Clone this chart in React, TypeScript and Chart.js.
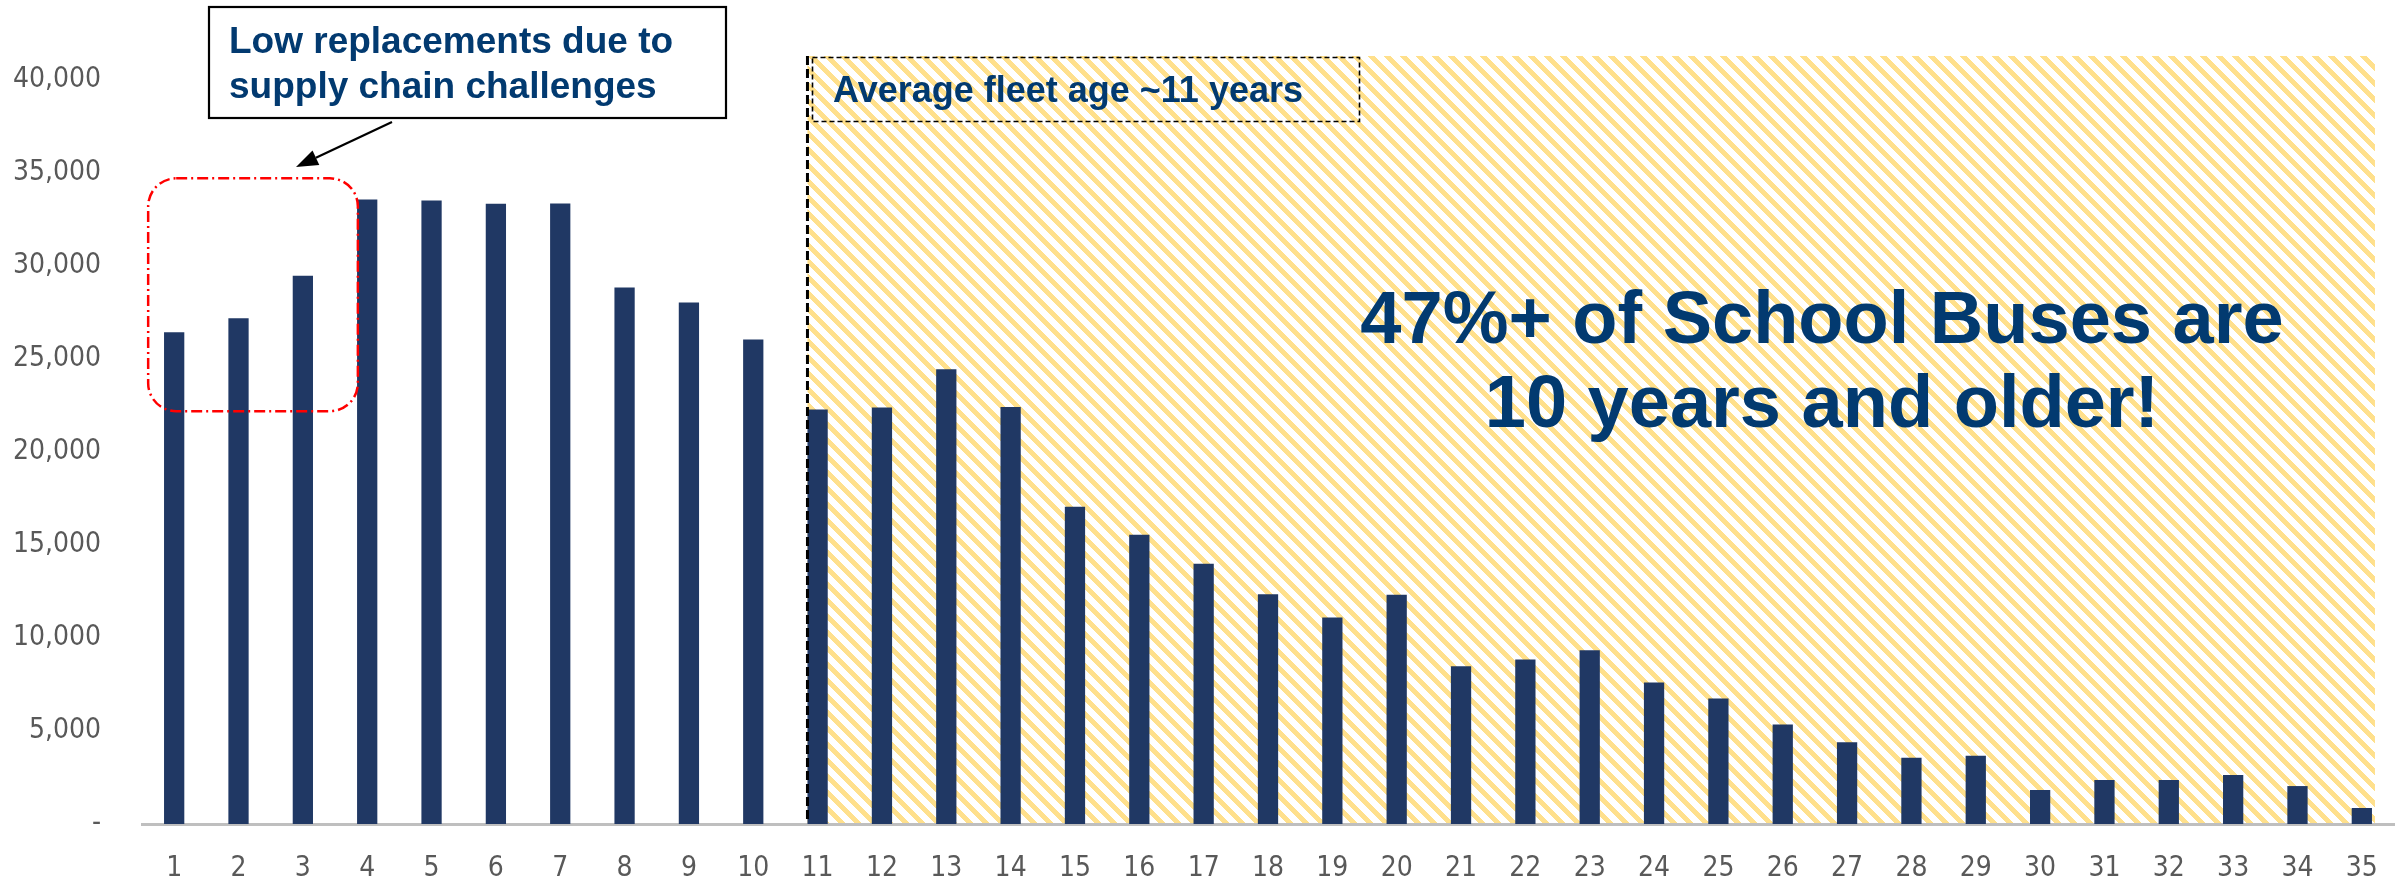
import React, { useEffect, useRef } from "react";
import { Chart, registerables } from "chart.js";

Chart.register(...registerables);

// ---- data ----
const ages = ["1","2","3","4","5","6","7","8","9","10","11","12","13","14","15","16","17","18","19","20","21","22","23","24","25","26","27","28","29","30","31","32","33","34","35"];
const busCounts = [26450, 27200, 29480, 33580, 33530, 33350, 33370, 28850, 28050, 26060, 22290, 22400, 24460, 22430, 17060, 15550, 14000, 12350, 11110, 12330, 8480, 8850, 9350, 7610, 6750, 5350, 4390, 3560, 3670, 1830, 2360, 2360, 2630, 2040, 860];
const yTickValues = [0, 5000, 10000, 15000, 20000, 25000, 30000, 35000, 40000];
const yAxisMax = 41300;
const calloutLines = ["Low replacements due to", "supply chain challenges"];
const fleetAgeLabel = "Average fleet age ~11 years";
const headlineLines = ["47%+ of School Buses are", "10 years and older!"];
const highlightTop = 34720;
const highlightBottom = 22200;
const olderStartIndex = 10;

const BAR_PCT = 0.315;
const BAR_COLOR = "#203864";
const TEXT_BLUE = "#023A70";
const AXIS_FONT = "'DejaVu Sans Condensed', 'DejaVu Sans', sans-serif";
const BOLD_FONT = "'Liberation Sans', Arial, sans-serif";

function makeHatch(): CanvasPattern | string {
  const c = document.createElement("canvas");
  const n = 16;
  c.width = n;
  c.height = n;
  const cx = c.getContext("2d");
  if (!cx) return "#FFE08C";
  const img = cx.createImageData(n, n);
  for (let y = 0; y < n; y++) {
    for (let x = 0; x < n; x++) {
      const d = (((x - y) % n) + n) % n;
      const i = (y * n + x) * 4;
      if (d < 7) {
        img.data[i] = 255; img.data[i + 1] = 224; img.data[i + 2] = 140; img.data[i + 3] = 255;
      } else {
        img.data[i] = 255; img.data[i + 1] = 255; img.data[i + 2] = 255; img.data[i + 3] = 255;
      }
    }
  }
  cx.putImageData(img, 0, 0);
  const p = cx.createPattern(c, "repeat");
  return p || "#FFE08C";
}

function roundRectPath(ctx: CanvasRenderingContext2D, x: number, y: number, w: number, h: number, r: number) {
  ctx.beginPath();
  ctx.moveTo(x + r, y);
  ctx.lineTo(x + w - r, y);
  ctx.arcTo(x + w, y, x + w, y + r, r);
  ctx.lineTo(x + w, y + h - r);
  ctx.arcTo(x + w, y + h, x + w - r, y + h, r);
  ctx.lineTo(x + r, y + h);
  ctx.arcTo(x, y + h, x, y + h - r, r);
  ctx.lineTo(x, y + r);
  ctx.arcTo(x, y, x + r, y, r);
  ctx.closePath();
}

export default function App() {
  const ref = useRef<HTMLCanvasElement | null>(null);

  useEffect(() => {
    const canvas = ref.current;
    if (!canvas) return;
    const hatch = makeHatch();

    const annotations = {
      id: "annotations",
      beforeDatasetsDraw(chart: any) {
        const { ctx, scales } = chart;
        const x = scales.x, y = scales.y;
        const w = x.getPixelForValue(1) - x.getPixelForValue(0);
        const bw = w * BAR_PCT;
        const left = x.getPixelForValue(olderStartIndex) - bw / 2;
        const right = x.getPixelForValue(ages.length - 1) + bw / 2 + 3;
        const top = y.getPixelForValue(yAxisMax);
        const bottom = y.getPixelForValue(0) - 1;
        ctx.save();
        ctx.fillStyle = hatch;
        ctx.fillRect(left, top, right - left, bottom - top);
        ctx.restore();
      },
      afterDatasetsDraw(chart: any) {
        const { ctx, scales } = chart;
        const x = scales.x, y = scales.y;
        const w = x.getPixelForValue(1) - x.getPixelForValue(0);
        const bw = w * BAR_PCT;
        const lineX = x.getPixelForValue(olderStartIndex) - bw / 2;
        const top = y.getPixelForValue(yAxisMax);
        const bottom = y.getPixelForValue(0) - 1;
        ctx.save();

        // vertical dashed line
        ctx.strokeStyle = "#000";
        ctx.lineWidth = 3;
        ctx.setLineDash([9, 4]);
        ctx.beginPath();
        ctx.moveTo(lineX, top);
        ctx.lineTo(lineX, bottom);
        ctx.stroke();

        // average fleet age box
        ctx.lineWidth = 1.6;
        ctx.setLineDash([5, 3]);
        ctx.strokeRect(812.5, 57.5, 547, 64);
        ctx.setLineDash([]);
        ctx.fillStyle = TEXT_BLUE;
        ctx.font = `bold 36px ${BOLD_FONT}`;
        ctx.textAlign = "left";
        ctx.textBaseline = "alphabetic";
        ctx.fillText(fleetAgeLabel, 833, 102);

        // red highlight box
        const rl = x.getPixelForValue(0) - 26;
        const rr = x.getPixelForValue(2) + 55;
        const rt = y.getPixelForValue(highlightTop);
        const rb = y.getPixelForValue(highlightBottom);
        ctx.strokeStyle = "#FF0000";
        ctx.lineWidth = 2.5;
        ctx.setLineDash([11, 4, 2, 4]);
        roundRectPath(ctx, rl, rt, rr - rl, rb - rt, 28);
        ctx.stroke();
        ctx.setLineDash([]);

        // callout box
        ctx.fillStyle = "#FFFFFF";
        ctx.fillRect(209, 7, 517, 111);
        ctx.strokeStyle = "#000";
        ctx.lineWidth = 2.2;
        ctx.strokeRect(209, 7, 517, 111);
        ctx.fillStyle = TEXT_BLUE;
        ctx.font = `bold 37px ${BOLD_FONT}`;
        ctx.fillText(calloutLines[0], 229, 53, 446);
        ctx.fillText(calloutLines[1], 229, 98, 446);

        // arrow
        const ax0 = 392, ay0 = 122, ax1 = 296, ay1 = 167;
        const ang = Math.atan2(ay1 - ay0, ax1 - ax0);
        const hl = 22, hw = 8;
        const bx = ax1 - hl * Math.cos(ang), by = ay1 - hl * Math.sin(ang);
        ctx.strokeStyle = "#000";
        ctx.lineWidth = 2.2;
        ctx.beginPath();
        ctx.moveTo(ax0, ay0);
        ctx.lineTo(bx, by);
        ctx.stroke();
        ctx.fillStyle = "#000";
        ctx.beginPath();
        ctx.moveTo(ax1, ay1);
        ctx.lineTo(bx + hw * Math.sin(ang), by - hw * Math.cos(ang));
        ctx.lineTo(bx - hw * Math.sin(ang), by + hw * Math.cos(ang));
        ctx.closePath();
        ctx.fill();

        // headline
        ctx.fillStyle = TEXT_BLUE;
        ctx.font = `bold 74px ${BOLD_FONT}`;
        ctx.textAlign = "center";
        ctx.fillText(headlineLines[0], 1822, 343);
        ctx.fillText(headlineLines[1], 1822, 427);
        ctx.restore();
      },
    };

    const chart = new Chart(canvas, {
      type: "bar",
      data: {
        labels: ages,
        datasets: [
          {
            data: busCounts,
            backgroundColor: BAR_COLOR,
            borderWidth: 0,
            barPercentage: BAR_PCT,
            categoryPercentage: 1,
          },
        ],
      },
      options: {
        responsive: false,
        animation: false,
        layout: { padding: { top: 56, right: 3, left: 0, bottom: 0 } },
        plugins: { legend: { display: false }, tooltip: { enabled: false } },
        scales: {
          x: {
            grid: { display: false, drawTicks: false },
            border: { display: true, color: "#BFBFBF", width: 3 },
            ticks: {
              color: "#595959",
              font: { family: AXIS_FONT, size: 28 },
              padding: 28,
              maxRotation: 0,
              autoSkip: false,
            },
            afterFit: (s: any) => { s.height = 55; s.paddingLeft = 0; s.paddingRight = 0; },
          },
          y: {
            min: 0,
            max: yAxisMax,
            grid: { display: false, drawTicks: false },
            border: { display: false },
            ticks: {
              color: "#595959",
              font: { family: AXIS_FONT, size: 28 },
              padding: 41,
              callback: (v: any) => (Number(v) === 0 ? "-" : Number(v).toLocaleString("en-US")),
            },
            afterBuildTicks: (s: any) => { s.ticks = yTickValues.map((v) => ({ value: v })); },
            afterFit: (s: any) => { s.width = 142; s.paddingTop = 0; s.paddingBottom = 0; },
          },
        },
      },
      plugins: [annotations],
    });

    return () => chart.destroy();
  }, []);

  return (
    <div style={{ position: "fixed", left: 0, top: 0, width: 2397, height: 879, background: "#fff" }}>
      <canvas ref={ref} width={2397} height={879} style={{ display: "block" }} />
    </div>
  );
}
